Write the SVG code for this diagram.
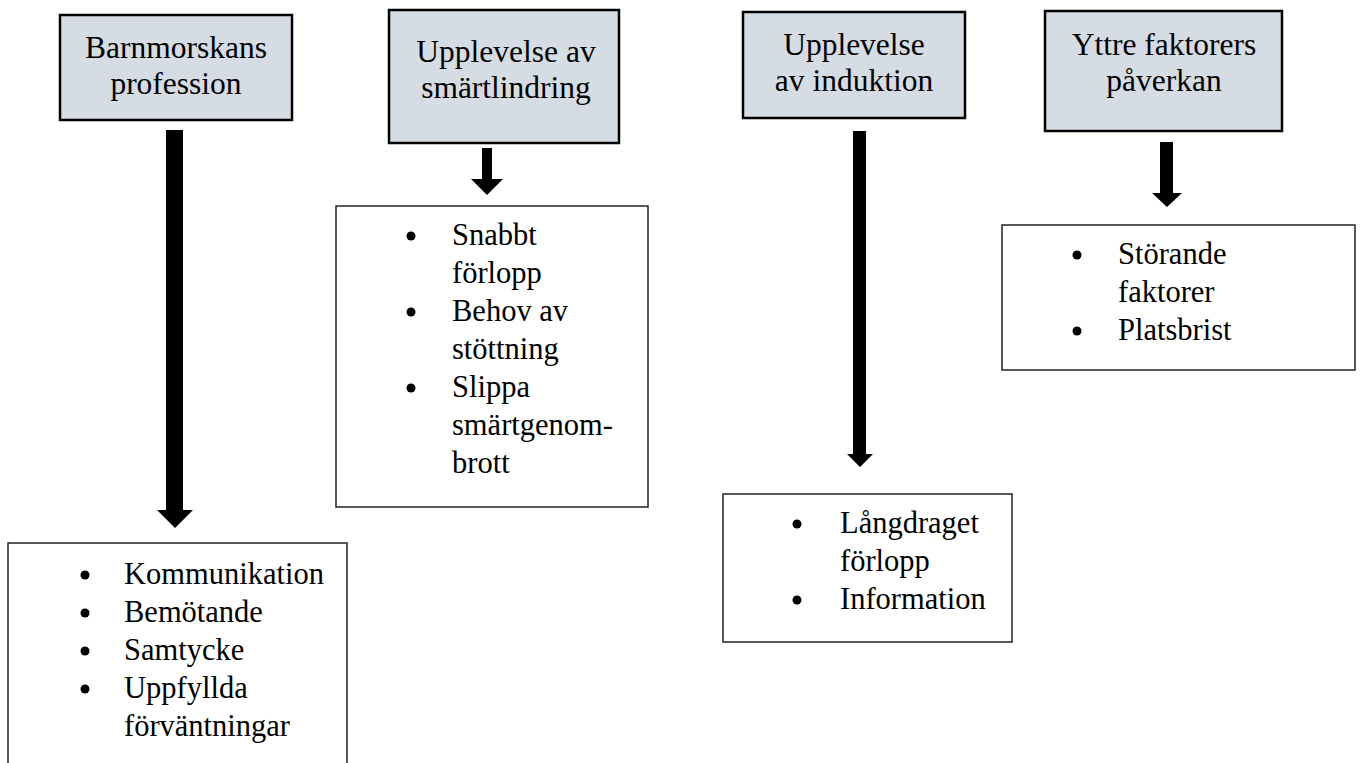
<svg xmlns="http://www.w3.org/2000/svg" width="1360" height="763" viewBox="0 0 1360 763">
<style>
.hdr{fill:#D6DCE4;stroke:#000;stroke-width:2.5}
.lst{fill:#fff;stroke:#222;stroke-width:1.5}
.ht{font-family:"Liberation Serif",serif;font-size:31.5px;fill:#000;text-anchor:middle}
.lt{font-family:"Liberation Serif",serif;font-size:30.5px;fill:#000}
.bul{fill:#000}
.arr{fill:#000}
</style>
<rect width="1360" height="763" fill="#fff"/>
<g id="connectors">
<path class="arr" d="M166,130 H183 V510 H193 L175,528 L157,510 H166 Z"/>
<path class="arr" d="M482,148 H492 V179 H503 L487,195 L471,179 H482 Z"/>
<path class="arr" d="M853,131 H866 V454 H873 L860,467 L847,454 H853 Z"/>
<path class="arr" d="M1160,142 H1173 V193 H1182 L1167,207 L1152,193 H1160 Z"/>
</g>
<g id="h1">
<rect class="hdr" x="60" y="15" width="232" height="105"/>
<text class="ht" x="176" y="58">Barnmorskans</text>
<text class="ht" x="176" y="94">profession</text>
</g>
<g id="h2">
<rect class="hdr" x="389" y="10" width="230" height="133"/>
<text class="ht" x="506" y="62">Upplevelse av</text>
<text class="ht" x="506" y="98">smärtlindring</text>
</g>
<g id="h3">
<rect class="hdr" x="743" y="12" width="222" height="106"/>
<text class="ht" x="854" y="55">Upplevelse</text>
<text class="ht" x="854" y="91">av induktion</text>
</g>
<g id="h4">
<rect class="hdr" x="1045" y="11" width="237" height="120"/>
<text class="ht" x="1164" y="55">Yttre faktorers</text>
<text class="ht" x="1164" y="91">påverkan</text>
</g>
<g id="l1">
<rect class="lst" x="8" y="543" width="339" height="240"/>
<circle class="bul" cx="85" cy="575" r="4.5"/>
<circle class="bul" cx="85" cy="613" r="4.5"/>
<circle class="bul" cx="85" cy="651" r="4.5"/>
<circle class="bul" cx="85" cy="689" r="4.5"/>
<text class="lt" x="124" y="584">Kommunikation</text>
<text class="lt" x="124" y="622">Bemötande</text>
<text class="lt" x="124" y="660">Samtycke</text>
<text class="lt" x="124" y="698">Uppfyllda</text>
<text class="lt" x="124" y="736">förväntningar</text>
</g>
<g id="l2">
<rect class="lst" x="336" y="206" width="312" height="301"/>
<circle class="bul" cx="411" cy="236" r="4.5"/>
<circle class="bul" cx="411" cy="312" r="4.5"/>
<circle class="bul" cx="411" cy="388" r="4.5"/>
<text class="lt" x="452" y="245">Snabbt</text>
<text class="lt" x="452" y="283">förlopp</text>
<text class="lt" x="452" y="321">Behov av</text>
<text class="lt" x="452" y="359">stöttning</text>
<text class="lt" x="452" y="397">Slippa</text>
<text class="lt" x="452" y="435">smärtgenom-</text>
<text class="lt" x="452" y="473">brott</text>
</g>
<g id="l3">
<rect class="lst" x="723" y="494" width="289" height="148"/>
<circle class="bul" cx="797" cy="524" r="4.5"/>
<circle class="bul" cx="797" cy="600" r="4.5"/>
<text class="lt" x="840" y="533">Långdraget</text>
<text class="lt" x="840" y="571">förlopp</text>
<text class="lt" x="840" y="609">Information</text>
</g>
<g id="l4">
<rect class="lst" x="1002" y="225" width="353" height="145"/>
<circle class="bul" cx="1077" cy="255" r="4.5"/>
<circle class="bul" cx="1077" cy="331" r="4.5"/>
<text class="lt" x="1118" y="264">Störande</text>
<text class="lt" x="1118" y="302">faktorer</text>
<text class="lt" x="1118" y="340">Platsbrist</text>
</g>
</svg>
